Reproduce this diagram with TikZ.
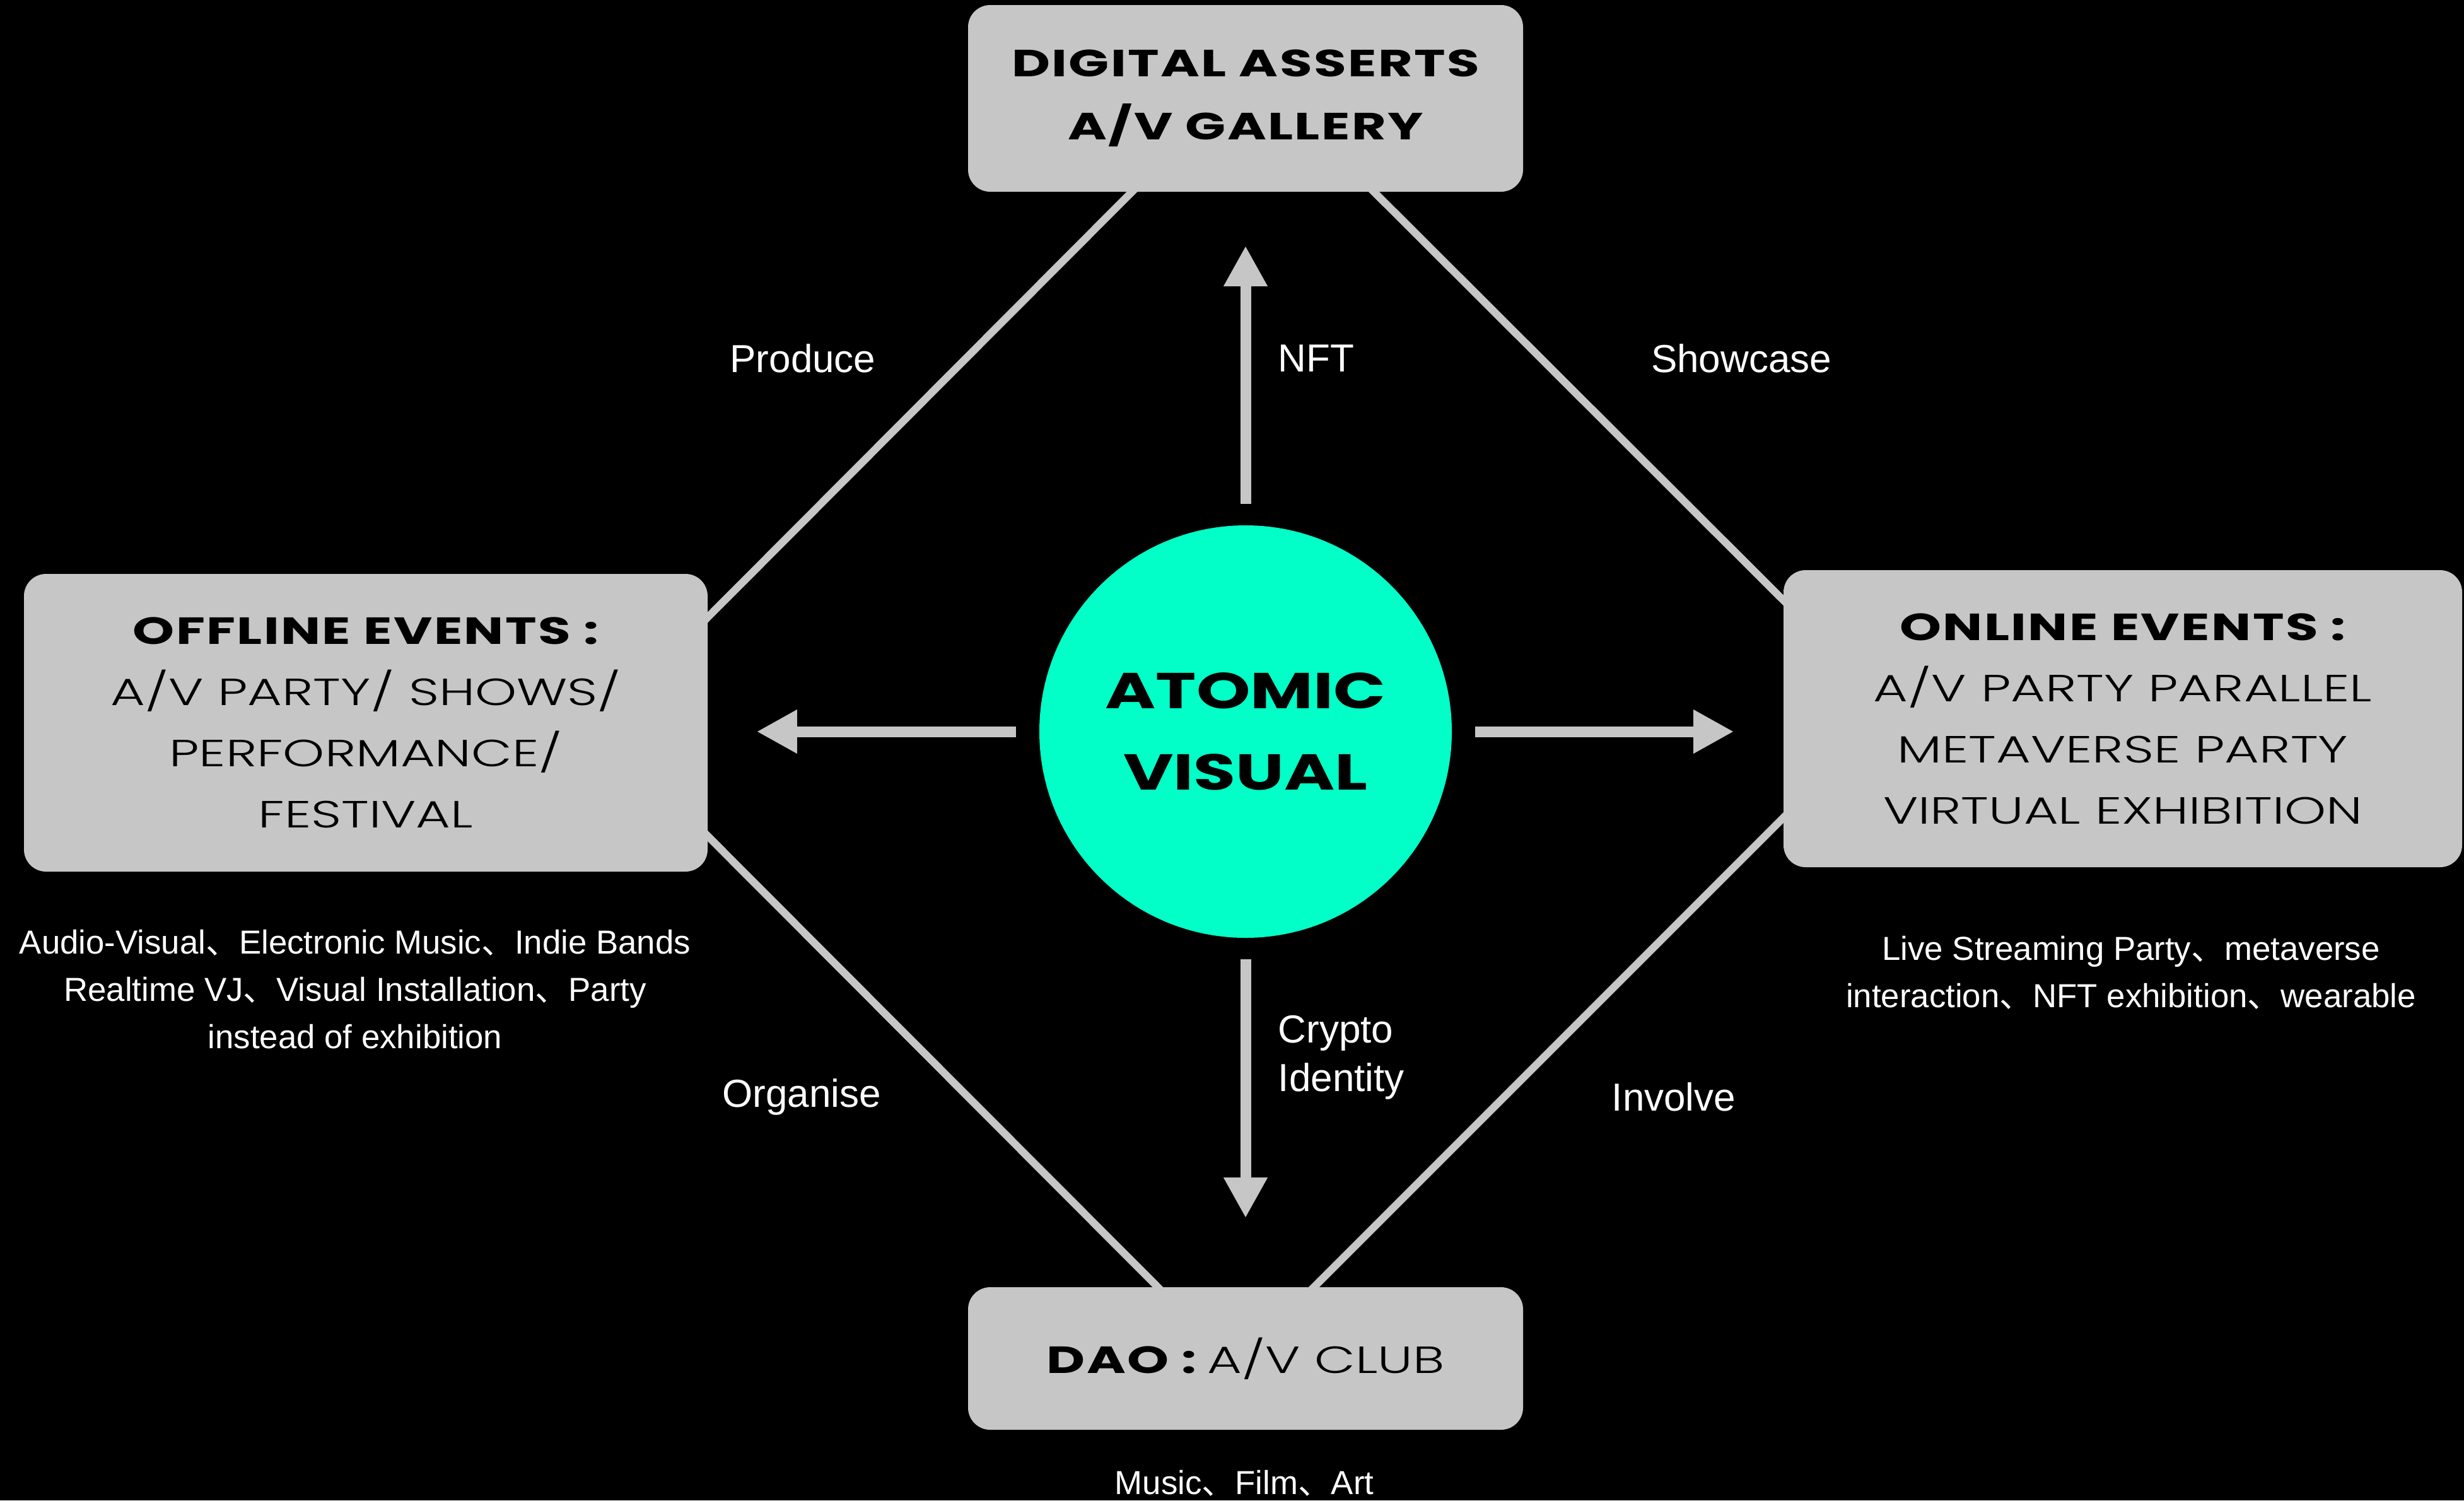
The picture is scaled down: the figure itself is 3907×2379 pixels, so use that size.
\documentclass[tikz,border=0pt]{standalone}
\usepackage{fontspec}
\setmainfont{Liberation Sans}
\newfontfamily\cjkfont{Noto Sans CJK SC}
\newfontfamily\popb{Poppins}[FakeStretch=1.4, LetterSpace=4]
\newfontfamily\popc{Poppins}[FakeStretch=1.36]
\IfFontExistsTF{Poppins Light}{\newfontfamily\popl{Poppins Light}[FakeStretch=1.4]}{\newfontfamily\popl{Poppins}[FakeStretch=1.4]}
\usetikzlibrary{arrows.meta,calc}
\pgfdeclarelayer{back}
\pgfdeclarelayer{mid}
\pgfsetlayers{back,mid,main}
\definecolor{boxgray}{RGB}{198,198,198}
\definecolor{avteal}{RGB}{2,255,200}
\newcommand\dn{{\cjkfont 、}}
\begin{document}
\begin{tikzpicture}[x=0.25pt,y=-0.25pt,
  box/.style={fill=boxgray, rounded corners=8.75pt, inner sep=0pt, align=center, text=black,
    font=\fontsize{15}{24.25}\selectfont},
  link/.style={draw=boxgray, line width=3pt},
  arr/.style={draw=boxgray, line width=4.25pt, -{Triangle[length=16pt,width=16.25pt]}},
  lbl/.style={text=white, font=\fontsize{15.5}{19.25}\selectfont, inner sep=0pt, align=left},
  desc/.style={text=white, align=center, font=\fontsize{13.2}{18.75}\selectfont, inner sep=0pt}]
\begin{pgfonlayer}{back}
\fill[black] (0,0) rectangle (3907,2379);
\end{pgfonlayer}
\useasboundingbox (0,0) rectangle (3907,2379);

% boxes
\node[box, minimum width=220pt, minimum height=74pt, font=\fontsize{15}{25}\selectfont] (top) at (1975,156)
  {{\popb\bfseries DIGITAL ASSERTS}\\{\popb\bfseries A/V GALLERY}};
\node[box, minimum width=271pt, minimum height=118pt] (left) at (580,1146)
  {{\popb\bfseries OFFLINE EVENTS :}\\{\popl A/V PARTY/ SHOWS/}\\{\popl PERFORMANCE/}\\{\popl FESTIVAL}};
\node[box, minimum width=269pt, minimum height=117.75pt] (right) at (3366,1139.5)
  {{\popb\bfseries ONLINE EVENTS :}\\{\popl A/V PARTY PARALLEL}\\{\popl METAVERSE PARTY}\\{\popl VIRTUAL EXHIBITION}};
\node[box, minimum width=220pt, minimum height=56.5pt] (bot) at (1975,2154)
  {{\popb\bfseries DAO :} {\popl A/V CLUB}};
\node[circle, fill=avteal, minimum size=163.5pt, inner sep=0pt, align=center, text=black,
  font=\fontsize{20}{32.25}\selectfont\popc\bfseries] (circ) at (1975,1160) {ATOMIC\\VISUAL};

% diagonal links
\begin{pgfonlayer}{mid}
\draw[link] ($(top.south west)+(270,-10)$) -- ($(left.north east)+(-10,79)$);
\draw[link] ($(top.south west)+(635,-10)$) -- ($(right.north west)+(10,58)$);
\draw[link] ($(left.north east)+(-10,407)$) -- ($(bot.north west)+(311,10)$);
\draw[link] ($(right.north west)+(10,384)$) -- ($(bot.north west)+(540,10)$);
\end{pgfonlayer}

% arrows
\draw[arr] ($(circ.north)+(0,-33)$) -- ($(top.south)+(0,85)$);
\draw[arr] ($(circ.west)+(-36,0)$) -- ($(left.east |- circ.west)+(77,0)$);
\draw[arr] ($(circ.east)+(36,0)$) -- ($(right.west |- circ.east)+(-78,0)$);
\draw[arr] ($(circ.south)+(0,33)$) -- ($(bot.north)+(0,-109)$);

% labels
\node[lbl] (produce) at (1273,568) {Produce};
\node[lbl] (showcase) at (2761,568) {Showcase};
\node[lbl, anchor=west] (nft) at (2026,568) {NFT};
\node[lbl] (organise) at (1271,1739) {Organise};
\node[lbl] (involve) at (2654,1739) {Involve};
\node[lbl, anchor=west] (crypto) at (2026,1677) {Crypto\\Identity};

% descriptions
\node[desc] (dleft) at (563,1569) {Audio-Visual\dn Electronic Music\dn Indie Bands\\Realtime VJ\dn Visual Installation\dn Party\\instead of exhibition};
\node[desc] (dright) at (3379,1542) {Live Streaming Party\dn metaverse\\interaction\dn NFT exhibition\dn wearable};
\node[desc] (dbot) at (1973,2352) {Music\dn Film\dn Art};
\end{tikzpicture}
\end{document}
